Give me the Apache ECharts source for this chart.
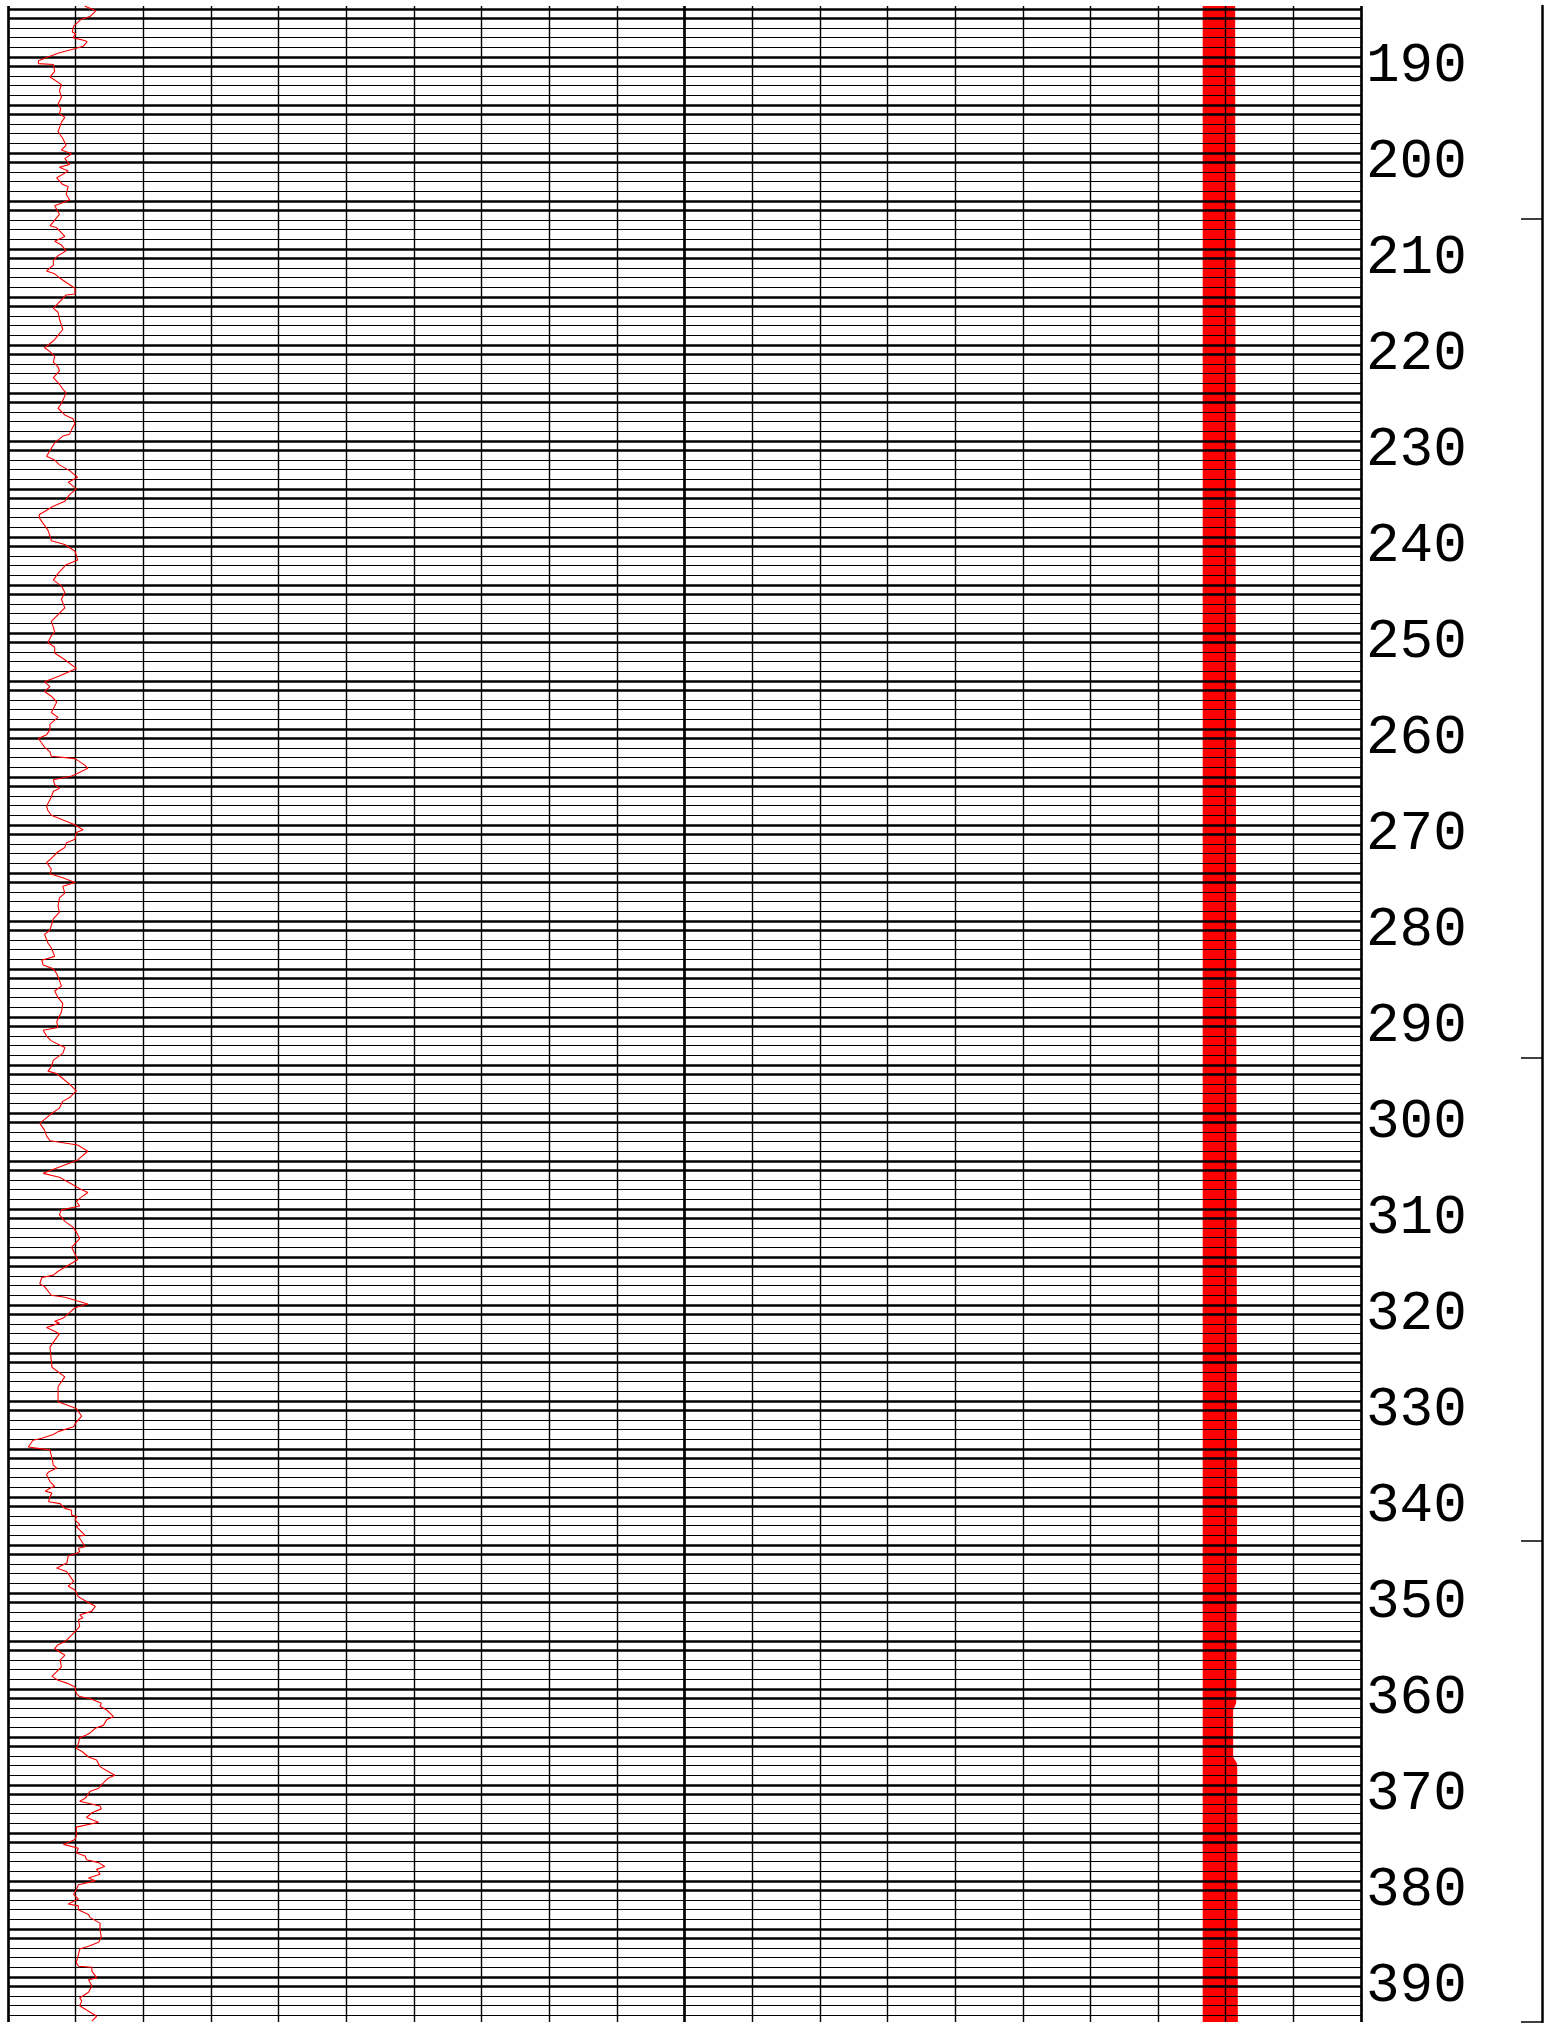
<!DOCTYPE html>
<html><head><meta charset="utf-8">
<script src="https://cdn.jsdelivr.net/npm/echarts@6/dist/echarts.min.js"></script>
<style>html,body{margin:0;padding:0;background:#fff}#c{width:1551px;height:2023px}</style>
</head><body><div id="c"></div>
<script>
// depth axis
const depthMin = 183.7;
const depthMax = 393.7;
const depthLabels = [190,200,210,220,230,240,250,260,270,280,290,300,310,320,330,340,350,360,370,380,390];
const rightAxisTicks = [205.9, 293.3, 343.6, 393.7];

// red log curve (track values 0..200)
const curveDepth = [183.7,184.2,184.8,185.1,185.8,186.4,186.6,187.0,187.2,187.4,187.9,188.1,188.6,188.8,189.4,189.7,189.8,190.5,191.1,191.4,191.9,192.5,193.2,193.9,194.4,194.9,195.3,195.8,196.8,197.5,198.2,198.7,199.1,199.6,200.2,200.5,200.9,201.6,202.3,202.5,203.3,203.9,204.5,205.4,206.6,206.8,207.7,208.2,208.6,209.2,209.7,210.2,210.7,211.3,211.6,212.0,212.5,213.1,213.7,213.8,214.3,215.2,215.6,216.3,217.4,218.0,218.6,219.3,219.7,219.9,220.2,220.8,221.3,221.7,222.4,223.1,223.6,224.0,225.1,225.6,226.3,226.7,227.2,227.8,228.3,228.5,229.2,230.6,231.0,231.5,232.1,232.8,233.3,234.0,234.6,235.3,235.8,236.7,237.1,237.8,238.3,238.9,239.4,239.8,240.5,241.4,241.9,242.8,243.5,244.1,244.8,245.5,246.4,247.1,247.8,248.4,248.9,249.3,250.0,250.5,251.1,251.8,252.7,253.5,254.1,254.6,255.1,255.6,256.2,256.9,257.3,257.8,258.5,259.1,259.6,260.0,260.5,260.9,261.4,261.85,262.1,262.3,262.75,263.1,263.7,263.9,264.3,264.8,265.2,265.5,266.1,267.05,267.5,268.0,268.9,269.1,269.5,269.8,270.5,270.9,271.35,271.8,272.5,272.9,273.6,274.1,274.5,275.0,275.4,276.1,276.6,277.5,278.1,278.8,279.95,280.4,281.3,281.8,282.7,283.1,283.6,284.0,284.5,285.2,285.8,286.3,287.0,287.6,288.5,289.5,290.1,290.4,291.0,291.5,292.2,292.8,293.5,294.2,294.65,294.9,295.6,296.0,296.7,297.4,297.8,298.5,299.2,300.1,300.8,301.4,301.9,302.35,303.0,303.9,305.3,305.7,306.4,306.9,307.3,307.8,308.2,308.7,309.1,309.6,310.3,310.9,311.4,312.1,313.0,313.7,314.3,315.5,315.9,316.15,316.8,317.1,318.0,318.2,318.6,318.9,319.3,319.8,320.4,320.7,320.9,321.35,322.0,322.7,323.4,325.5,326.5,327.5,328.2,329.1,329.8,330.6,331.2,331.7,332.2,332.5,332.9,333.1,333.8,334.0,334.1,335.0,335.7,336.0,336.4,336.7,337.4,337.9,338.1,338.4,338.6,339.0,339.5,339.7,340.2,340.4,340.9,341.05,341.4,341.9,342.1,343.0,343.1,344.2,344.35,344.7,344.9,345.15,345.9,346.4,346.8,347.3,347.8,348.3,348.7,349.4,349.9,350.4,350.9,351.3,351.6,351.8,352.5,352.9,353.4,354.1,354.4,354.8,355.5,356.0,356.7,357.7,358.1,358.4,358.8,359.5,359.8,360.0,360.3,360.5,360.8,361.2,361.9,362.2,362.8,363.1,363.6,363.8,364.1,364.7,365.2,365.5,366.1,366.4,367.1,367.6,368.0,368.3,369.0,369.35,369.7,370.4,370.7,371.2,371.5,371.9,372.4,372.9,373.4,374.3,374.7,375.2,375.6,376.1,376.4,376.8,377.1,377.5,377.8,378.3,378.7,379.0,379.4,379.9,380.4,380.9,381.4,381.6,382.0,382.5,382.8,383.4,384.05,384.9,385.4,385.8,386.1,386.7,387.5,387.9,388.0,388.4,389.1,389.3,389.95,390.6,391.2,391.5,392.0,393.1,393.6];
const curveValue = [11.3,13.0,12.1,10.8,9.7,9.5,10.0,9.6,10.8,11.7,11.1,10.1,7.5,6.7,4.5,4.5,6.7,6.9,6.2,6.9,7.9,7.6,7.9,7.4,7.8,7.6,8.4,7.9,7.4,8.1,8.6,7.9,9.4,8.4,9.1,7.6,8.9,7.2,8.1,8.9,8.6,9.1,6.9,7.6,6.2,7.2,8.4,6.9,7.9,8.6,7.4,6.7,6.7,5.7,6.9,7.6,8.6,9.9,9.9,8.6,7.9,6.7,7.4,7.6,8.1,7.4,6.7,5.4,6.2,6.4,6.9,6.7,7.4,7.6,6.7,7.6,8.1,8.6,7.9,7.4,8.4,9.6,9.9,9.4,9.1,8.1,6.9,5.7,6.9,7.6,9.1,10.3,8.9,10.1,9.1,8.4,6.7,4.6,4.7,5.4,5.9,6.2,6.4,8.4,9.9,10.3,8.6,7.4,6.7,7.9,8.4,7.9,8.4,7.4,6.4,6.7,6.9,6.4,5.9,6.9,6.9,8.4,10.1,7.6,5.4,6.2,5.4,6.4,7.2,6.7,6.4,7.4,6.2,6.2,5.7,4.5,5.0,5.4,6.2,6.4,9.9,10.1,11.3,11.8,10.1,9.4,6.7,6.9,7.6,6.7,6.4,5.7,5.9,6.4,9.6,10.1,11.1,10.1,9.9,8.6,8.4,7.4,6.4,5.7,6.4,6.2,8.1,9.9,8.1,8.4,7.6,7.4,7.6,6.7,6.2,5.4,5.9,6.4,6.9,5.0,5.2,6.7,7.2,7.6,7.9,6.9,7.4,8.1,7.9,7.2,7.4,5.2,5.7,6.4,8.4,8.1,6.7,6.4,5.9,7.2,8.4,9.1,10.1,9.1,8.1,7.6,6.2,4.7,5.4,5.7,6.2,10.3,11.8,10.3,5.2,7.6,9.4,10.6,11.8,10.8,10.1,10.6,7.9,7.6,8.4,9.6,10.1,10.6,9.4,9.9,10.3,7.4,6.7,5.0,4.7,5.4,6.4,8.4,10.3,11.8,9.9,9.1,8.1,6.9,7.6,5.7,7.6,6.9,6.2,6.5,8.4,7.4,7.4,7.4,10.1,10.9,10.1,9.7,7.4,6.7,5.0,3.7,3.0,5.0,6.2,6.5,6.7,7.2,6.0,5.7,6.2,6.9,6.2,5.5,6.5,6.2,6.0,7.7,8.4,9.4,9.4,10.2,9.9,10.6,10.1,11.4,10.4,11.4,10.4,10.6,10.1,8.9,8.7,7.2,8.7,9.2,9.7,8.9,9.9,10.4,11.6,12.9,12.4,10.6,11.1,10.4,10.6,10.1,9.4,8.4,7.4,6.9,8.4,7.7,7.9,6.5,7.4,8.7,9.9,10.1,10.6,12.1,13.1,13.8,13.6,14.6,15.6,14.6,14.1,12.9,12.1,11.6,10.6,10.4,10.1,10.9,11.9,13.1,13.6,14.8,15.8,14.8,13.8,13.4,12.1,11.4,10.6,13.6,13.8,12.4,11.6,13.4,10.1,10.1,9.9,8.2,10.4,10.1,11.4,11.6,13.4,14.3,13.1,13.6,11.9,12.9,10.4,10.1,9.7,10.4,8.9,10.4,10.4,11.9,12.1,13.6,13.6,13.8,13.4,11.9,10.6,10.4,10.1,10.4,12.4,12.4,13.1,11.9,12.4,11.9,10.6,10.9,10.6,13.1,12.4];

// red filled band (track values)
const bandDepth = [183.7, 220, 260, 300, 340, 360.5, 361.2, 366.1, 366.8, 380, 393.7];
const bandLeft  = [176.6, 176.6, 176.6, 176.6, 176.6, 176.6, 176.6, 176.6, 176.6, 176.6, 176.6];
const bandRight = [181.4, 181.45, 181.5, 181.6, 181.7, 181.55, 181.1, 181.1, 181.7, 181.75, 181.8];

const thinDepths = [];
for (let d = 184; d <= 393; d++) thinDepths.push(d);
const thickDepths = [];
for (let d = 185; d <= 395; d += 5) { thickDepths.push(d - 1); if (d <= 393) thickDepths.push(d); }

const chart = echarts.init(document.getElementById('c'), null, {renderer: 'canvas'});
const baseY = {type: 'value', inverse: true, min: depthMin, max: depthMax, position: 'right', z: 3,
  axisLine: {show: false}, axisLabel: {show: false}};
chart.setOption({
  animation: false,
  backgroundColor: '#fff',
  grid: {left: 8, top: 6, width: 1353, height: 2016, containLabel: false},
  xAxis: [
    {type: 'value', min: 0, max: 200, interval: 10, z: 3, axisLine: {show: false}, axisTick: {show: false}, axisLabel: {show: false},
     splitLine: {show: true, lineStyle: {color: '#000', width: 1.4}}},
    {type: 'value', min: 0, max: 200, interval: 100, z: 3, axisLine: {show: false}, axisTick: {show: false}, axisLabel: {show: false},
     splitLine: {show: true, lineStyle: {color: '#000', width: 2.6}}}
  ],
  yAxis: [
    Object.assign({}, baseY, {
      axisTick: {show: false, customValues: thinDepths},
      axisLabel: {show: true, customValues: depthLabels, margin: 5, color: '#000', fontFamily: 'Liberation Mono', fontSize: 56, verticalAlign: 'middle'},
      splitLine: {show: true, lineStyle: {color: '#000', width: 1.2}}
    }),
    Object.assign({}, baseY, {
      axisTick: {show: false, customValues: thickDepths},
      splitLine: {show: true, lineStyle: {color: '#000', width: 2.6}}
    }),
    {type: 'value', inverse: true, min: depthMin, max: depthMax, position: 'right', offset: 181, z: 3,
      axisLine: {show: true, lineStyle: {color: '#000', width: 2.5}},
      axisTick: {show: true, inside: true, length: 21, customValues: rightAxisTicks, lineStyle: {color: '#000', width: 1.5}},
      axisLabel: {show: false}, splitLine: {show: false}}
  ],
  series: [
    {type: 'custom', xAxisIndex: 0, yAxisIndex: 0, z: 1, silent: true, data: [0],
     renderItem: function (params, api) {
       const pts = [];
       for (let i = 0; i < bandDepth.length; i++) pts.push(api.coord([bandLeft[i], bandDepth[i]]));
       for (let i = bandDepth.length - 1; i >= 0; i--) pts.push(api.coord([bandRight[i], bandDepth[i]]));
       return {type: 'polygon', shape: {points: pts}, style: {fill: '#ff0000'}};
     }},
    {type: 'line', xAxisIndex: 0, yAxisIndex: 0, z: 5, showSymbol: false, symbol: 'none',
     data: curveValue.map((v, i) => [v, curveDepth[i]]),
     lineStyle: {color: '#ff0000', width: 1.1}}
  ]
});
</script></body></html>
